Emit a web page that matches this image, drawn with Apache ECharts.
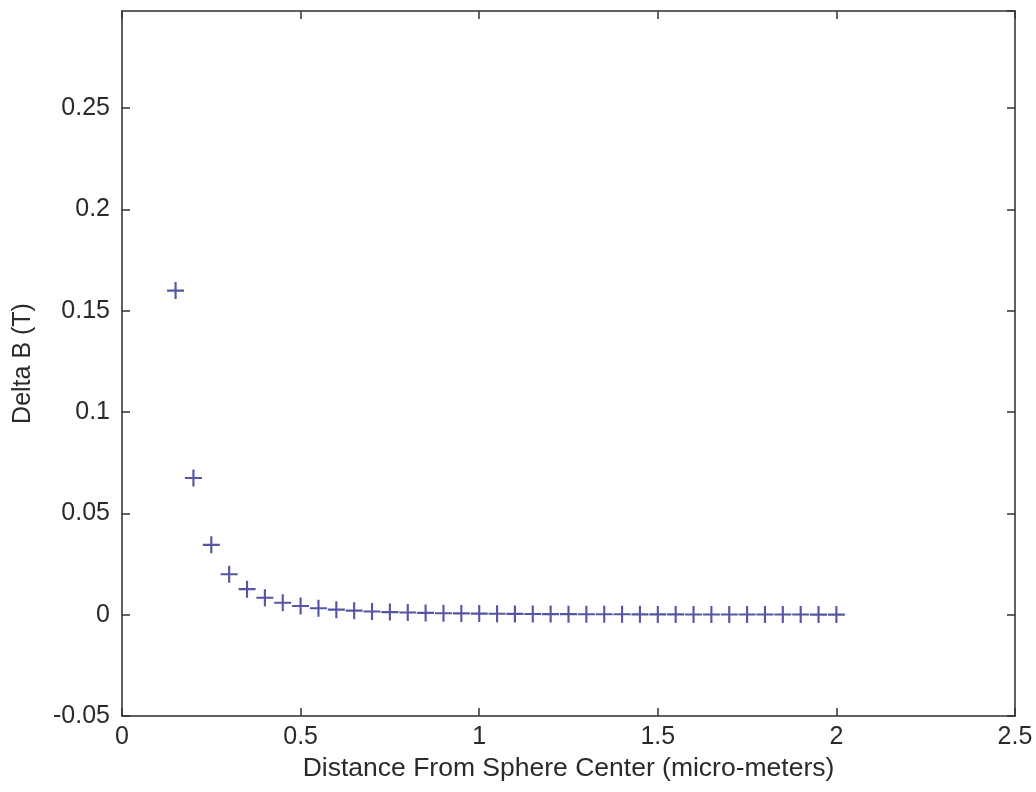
<!DOCTYPE html>
<html>
<head>
<meta charset="utf-8">
<title>Delta B vs Distance</title>
<script src="https://cdn.jsdelivr.net/npm/echarts@6/dist/echarts.min.js"></script>
<style>
  html, body { margin: 0; padding: 0; background: #ffffff; }
  #chart { width: 1036px; height: 792px; }
</style>
</head>
<body>
<div id="chart"></div>
<script>
// Distance from the sphere centre (micro-metres)
const distance = [
  0.15, 0.20, 0.25, 0.30, 0.35, 0.40, 0.45, 0.50, 0.55, 0.60,
  0.65, 0.70, 0.75, 0.80, 0.85, 0.90, 0.95, 1.00, 1.05, 1.10,
  1.15, 1.20, 1.25, 1.30, 1.35, 1.40, 1.45, 1.50, 1.55, 1.60,
  1.65, 1.70, 1.75, 1.80, 1.85, 1.90, 1.95, 2.00
];

// Field perturbation Delta B (T) at each distance
const deltaB = [
  0.160, 0.0675, 0.0345, 0.0200, 0.0126, 0.0084, 0.0059, 0.0043, 0.0032, 0.0025,
  0.0020, 0.0016, 0.0013, 0.0011, 0.00088, 0.00074, 0.00063, 0.00054, 0.00047, 0.00041,
  0.00036, 0.00031, 0.00028, 0.00025, 0.00022, 0.00020, 0.00018, 0.00016, 0.00015, 0.00013,
  0.00012, 0.00011, 0.00010, 0.00009, 0.00009, 0.00008, 0.00007, 0.00007
];

// Axis ranges and tick spacing
const xRange = [0, 2.5];
const xStep = 0.5;
const yRange = [-0.05, 0.298];
const yStep = 0.05;

const xTitle = 'Distance From Sphere Center (micro-meters)';
const yTitle = 'Delta B (T)';

const frameColor = '#606060';
const fontFamily = 'Liberation Sans, Arial, sans-serif';
const labelStyle = { fontFamily: fontFamily, fontSize: 25, color: '#2a2a2a' };
const xTitleStyle = { fontFamily: fontFamily, fontSize: 26.5, color: '#2a2a2a' };
const yTitleStyle = { fontFamily: fontFamily, fontSize: 25, color: '#2a2a2a' };

// Thin "+" marker, 16x16 with 2px arms
const plusPath = 'path://M7,0h2v7h7v2h-7v7h-2v-7h-7v-2h7z';

const points = distance.map((d, i) => [d, deltaB[i]]);

function boxAxis(extra) {
  return Object.assign({
    type: 'value',
    axisLine: { show: true, onZero: false, lineStyle: { color: frameColor, width: 2 } },
    axisTick: { show: true, inside: true, length: 8, lineStyle: { color: '#333', width: 1.5 } },
    splitLine: { show: false }
  }, extra);
}

const chart = echarts.init(document.getElementById('chart'), null, { renderer: 'canvas' });
chart.setOption({
  animation: false,
  backgroundColor: '#ffffff',
  grid: { left: 122, top: 11, right: 21, bottom: 76, containLabel: false },
  xAxis: [
    boxAxis({
      position: 'bottom',
      min: xRange[0], max: xRange[1], interval: xStep,
      name: xTitle,
      nameLocation: 'middle',
      nameGap: 39,
      nameTextStyle: xTitleStyle,
      axisLabel: Object.assign({ margin: 9 }, labelStyle)
    }),
    boxAxis({
      position: 'top',
      min: xRange[0], max: xRange[1], interval: xStep,
      axisLabel: { show: false }
    })
  ],
  yAxis: [
    boxAxis({
      position: 'left',
      min: yRange[0], max: yRange[1], interval: yStep,
      name: yTitle,
      nameLocation: 'middle',
      nameGap: 86,
      nameRotate: 90,
      nameTextStyle: yTitleStyle,
      axisLabel: Object.assign({ margin: 12, showMaxLabel: false }, labelStyle)
    }),
    boxAxis({
      position: 'right',
      min: yRange[0], max: yRange[1], interval: yStep,
      axisLabel: { show: false }
    })
  ],
  series: [{
    type: 'scatter',
    xAxisIndex: 0,
    yAxisIndex: 0,
    data: points,
    symbol: plusPath,
    symbolSize: 17,
    itemStyle: { color: '#2a2a8c' }
  }]
});
</script>
</body>
</html>
